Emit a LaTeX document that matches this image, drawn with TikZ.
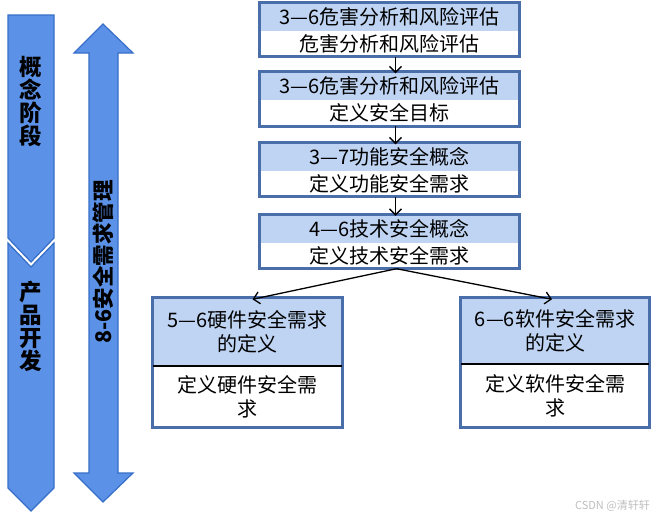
\documentclass[tikz,border=0pt]{standalone}
\usepackage{fontspec}
\setmainfont{Noto Sans CJK SC}
\usetikzlibrary{arrows.meta}
\definecolor{barfill}{RGB}{91,145,230}
\definecolor{bardraw}{RGB}{55,110,200}
\definecolor{boxdraw}{RGB}{74,110,170}
\definecolor{hdrfill}{RGB}{190,212,242}
\begin{document}
\begin{tikzpicture}[x=1pt,y=-1pt,
  hdr/.style={fill=hdrfill, minimum width=259pt, minimum height=28pt, inner sep=0pt, font=\fontsize{20}{22}\selectfont},
  bodyc/.style={fill=white, minimum width=259pt, minimum height=26pt, inner sep=0pt, font=\fontsize{20}{22}\selectfont},
  frame/.style={draw=boxdraw, line width=3pt},
  conn/.style={-{Straight Barb[length=6pt,width=12pt]}, line width=1.3pt},
  bar/.style={fill=barfill, draw=bardraw, line width=1.2pt, line join=miter},
  bartext/.style={align=center, inner sep=0pt, font=\bfseries\fontsize{22.5}{23}\selectfont},
  twoline/.style={align=center, font=\fontsize{20}{24}\selectfont},
]
\useasboundingbox[fill=white] (0,0) rectangle (656,520);
% left phase bars
\draw[bar] (8,15) -- (54,15) -- (54,238) -- (31,262) -- (8,238) -- cycle;
\draw[bar] (8,243) -- (31,267) -- (54,243) -- (54,488) -- (31,511) -- (8,488) -- cycle;
\node[bartext] (c1) at (31,102) {概\\念\\阶\\段};
\node[bartext] (c2) at (31,326) {产\\品\\开\\发};
% double arrow
\draw[bar] (103,24) -- (133,53) -- (118,53) -- (118,473) -- (133,473) -- (103,502) -- (74,473) -- (89,473) -- (89,53) -- (74,53) -- cycle;
\node[rotate=90, inner sep=0pt, font=\bfseries\fontsize{21.5}{22}\selectfont] (m) at (103,262) {8-6安全需求管理};
% top boxes
\node[hdr] (b1h) at (389.5,17) {3—6危害分析和风险评估};
\node[bodyc] (b1b) at (389.5,43.5) {危害分析和风险评估};
\node[hdr] (b2h) at (389.5,86) {3—6危害分析和风险评估};
\node[bodyc] (b2b) at (389.5,113) {定义安全目标};
\node[hdr] (b3h) at (389.5,157) {3—7功能安全概念};
\node[bodyc] (b3b) at (389.5,183.5) {定义功能安全需求};
\node[hdr] (b4h) at (389.5,228.5) {4—6技术安全概念};
\node[bodyc] (b4b) at (389.5,255.5) {定义技术安全需求};
\foreach \i in {1,2,3,4} {\draw[frame] (b\i h.north west) rectangle (b\i b.south east);}
\draw[conn] ([xshift=6pt]b1b.south) -- ([xshift=6pt,yshift=-1.5pt]b2h.north);
\draw[conn] ([xshift=6pt]b2b.south) -- ([xshift=6pt,yshift=-1.5pt]b3h.north);
\draw[conn] ([xshift=6pt]b3b.south) -- ([xshift=6pt,yshift=-1.5pt]b4h.north);
% bottom boxes
\node[hdr, minimum width=189pt, minimum height=68pt, twoline] (lh) at (247.5,332) {5—6硬件安全需求\\的定义};
\node[bodyc, minimum width=189pt, minimum height=61pt, twoline] (lb) at (247.5,396.5) {定义硬件安全需\\求};
\node[hdr, minimum width=188pt, minimum height=66pt, twoline] (rh) at (555,331) {6—6软件安全需求\\的定义};
\node[bodyc, minimum width=188pt, minimum height=63pt, twoline] (rb) at (555,395.5) {定义软件安全需\\求};
\draw[frame] (lh.north west) rectangle (lb.south east);
\draw[frame] (rh.north west) rectangle (rb.south east);
\draw[line width=1.5pt] (lh.south west) -- (lh.south east);
\draw[line width=1.5pt] (rh.south west) -- (rh.south east);
\draw[conn] ([xshift=7pt]b4b.south) -- ([xshift=5pt,yshift=-1.5pt]lh.north);
\draw[conn] ([xshift=7pt]b4b.south) -- ([xshift=-3pt,yshift=-1.5pt]rh.north);
% watermark
\node[text=black!25, anchor=east, inner sep=0pt, font=\fontsize{11}{12}\selectfont] (wm) at (650,506) {CSDN @清轩轩};
\end{tikzpicture}
\end{document}
